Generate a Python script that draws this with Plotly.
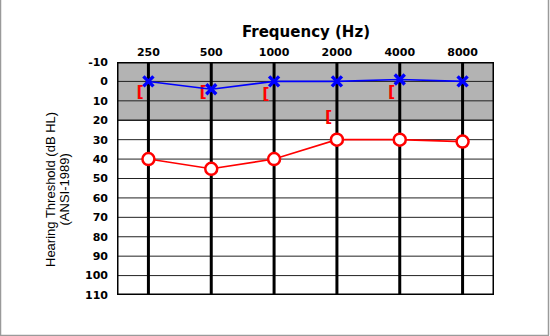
import plotly.graph_objects as go

# Audiogram data
freq_labels = ["250", "500", "1000", "2000", "4000", "8000"]
left_air = [0, 4, 0, 0, -1, 0]          # blue X
right_air = [40, 45, 40, 30, 30, 31]    # red O
right_bone = [6, 6, 7, 19, 6, None]     # red [
y_ticks = list(range(-10, 111, 10))
y_tick_text = [str(t) for t in y_ticks]

W, H = 550, 336
ML, MR, MT, MB = 117, 56, 62, 41
pw, ph = W - ML - MR, H - MT - MB

xs = list(range(len(freq_labels)))
SANS = "Liberation Sans, Arial, sans-serif"
BOLD = "DejaVu Sans, sans-serif"
BRACKET_OFFSET = 0.13   # brackets sit just left of the frequency line

fig = go.Figure()

# Bone conduction brackets
bx = [x - BRACKET_OFFSET for x, v in zip(xs, right_bone) if v is not None]
by = [v for v in right_bone if v is not None]
fig.add_trace(go.Scatter(
    x=bx, y=by, mode="text", text=["["] * len(bx),
    textposition="middle center",
    textfont=dict(family=BOLD, size=16, color="#ff0000", weight="bold"),
    hoverinfo="skip", showlegend=False, cliponaxis=False,
))

fig.add_trace(go.Scatter(
    x=xs, y=left_air, mode="lines+markers",
    line=dict(color="#0000ff", width=1.6),
    marker=dict(symbol="x-thin-open", size=10, color="#0000ff",
                line=dict(color="#0000ff", width=3.4)),
    showlegend=False, cliponaxis=False,
))

fig.add_trace(go.Scatter(
    x=xs, y=right_air, mode="lines+markers",
    line=dict(color="#ff0000", width=1.6),
    marker=dict(symbol="circle", size=12, color="white",
                line=dict(color="#ff0000", width=2.5)),
    showlegend=False, cliponaxis=False,
))

shapes = []
# shaded normal-hearing band
shapes.append(dict(type="rect", xref="x", yref="y", x0=-0.5, x1=5.5, y0=-10, y1=20,
                   fillcolor="#b3b3b3", line=dict(width=0), layer="below"))
# horizontal grid
for t in y_ticks:
    shapes.append(dict(type="line", xref="x", yref="y", x0=-0.5, x1=5.5, y0=t, y1=t,
                       line=dict(color="#222222", width=1.5 if t == 20 else 1), layer="below"))
# frequency lines
for x in xs:
    shapes.append(dict(type="line", xref="x", yref="y", x0=x, x1=x, y0=-10, y1=110,
                       line=dict(color="black", width=3), layer="below"))
# outer frame of the grid
shapes.append(dict(type="rect", xref="x", yref="y", x0=-0.5, x1=5.5, y0=-10, y1=110,
                   line=dict(color="black", width=3), layer="below"))
# page border (left, right, bottom)
px = lambda p: (p - ML) / pw
py = lambda p: (H - MB - p) / ph
for (x0, y0, x1, y1) in [(0.5, 0, 0.5, H - 0.5), (W - 1.5, 0, W - 1.5, H - 0.5),
                         (0, H - 0.5, W - 1, H - 0.5)]:
    shapes.append(dict(type="line", xref="paper", yref="paper",
                       x0=px(x0), x1=px(x1), y0=py(y0), y1=py(y1),
                       line=dict(color="#9a9a9a", width=1.5)))

# axis titles
annotations = [
    dict(text="Frequency (Hz)", xref="paper", yref="paper", x=0.5, y=py(32),
         showarrow=False, xanchor="center", yanchor="middle",
         font=dict(family=BOLD, size=15, color="black", weight="bold")),
    dict(text="Hearing Threshold (dB HL)", xref="paper", yref="paper", x=px(50), y=py(190),
         showarrow=False, textangle=-90, xanchor="center", yanchor="middle",
         font=dict(family=SANS, size=13, color="black")),
    dict(text="(ANSI-1989)", xref="paper", yref="paper", x=px(63.5), y=py(190),
         showarrow=False, textangle=-90, xanchor="center", yanchor="middle",
         font=dict(family=SANS, size=13, color="black")),
]

fig.update_layout(
    width=W, height=H,
    margin=dict(l=ML, r=MR, t=MT, b=MB),
    paper_bgcolor="white", plot_bgcolor="white",
    shapes=shapes, annotations=annotations,
    xaxis=dict(
        range=[-0.5, 5.5], side="top", tickmode="array", tickvals=xs, ticktext=freq_labels,
        showgrid=False, zeroline=False, showline=False, ticks="",
        tickfont=dict(family=BOLD, size=11, color="black", weight="bold"),
        ticklabelstandoff=3,
    ),
    yaxis=dict(
        range=[110, -10], tickmode="array", tickvals=y_ticks, ticktext=y_tick_text,
        showgrid=False, zeroline=False, showline=False, ticks="",
        tickfont=dict(family=BOLD, size=11, color="black", weight="bold"),
        ticklabelstandoff=8,
    ),
)

fig.write_html("out.html")
